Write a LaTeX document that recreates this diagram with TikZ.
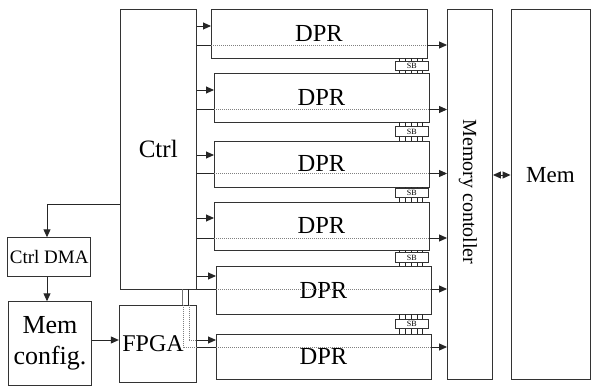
\documentclass[tikz,border=0pt]{standalone}
\usepackage{fontspec}
\setmainfont{Liberation Serif}
\usetikzlibrary{arrows.meta}

\begin{document}
\begin{tikzpicture}[
    x=1pt, y=-1pt,
    blk/.style={draw=black!80, line width=0.9pt, inner sep=0pt},
    wire/.style={line width=0.9pt, black!85},
    sig/.style={wire, -{Triangle[length=8pt, width=7pt]}},
    bus/.style={wire, {Triangle[length=8pt, width=7pt]}-{Triangle[length=8pt, width=7pt]}},
    trace/.style={gray, line width=0.5pt, dash pattern=on 1pt off 1pt},
    sbbox/.style={blk, line width=0.7pt, font=\fontsize{8}{8}\selectfont},
  ]

  \useasboundingbox (0,0) rectangle (600,388);

  % --- control column ---------------------------------------------------
  \node[blk, minimum width=76.5, minimum height=279.7,
        font=\fontsize{25}{30}\selectfont] (ctrl) at (158.25,149.15) {Ctrl};
  \node[blk, minimum width=83, minimum height=38.3,
        font=\fontsize{19}{22}\selectfont] (dma) at (49.2,256.9) {Ctrl DMA};
  \node[blk, minimum width=83.4, minimum height=83.3, align=center,
        font=\fontsize{26}{31}\selectfont] (memcfg) at (50,343.4) {Mem\\config.};
  \node[blk, minimum width=77.4, minimum height=77,
        label={[font=\fontsize{24}{28}\selectfont, xshift=-5pt]center:FPGA}] (fpga) at (158,343.5) {};

  % --- memory side ------------------------------------------------------
  \node[blk, minimum width=45, minimum height=370] (mc) at (470,194) {};
  \node[rotate=-90, font=\fontsize{20}{24}\selectfont] (mclab)
        at ([xshift=-2pt, yshift=2pt]mc.center) {Memory contoller};
  \node[blk, minimum width=79, minimum height=370,
        label={[font=\fontsize{23}{27}\selectfont, yshift=19pt]center:Mem}] (mem) at (550.5,194) {};
  \draw[bus] ([yshift=19pt]mc.east) -- ([yshift=19pt]mc.east -| mem.west);

  % --- DPR rows: left/top/right/bottom, ctrl-in y, data-out y -----------
  \foreach \i/\lx/\ty/\rx/\by/\ci/\co in {1/211/9.5/427/58/26/45,
      2/214/73/429/122/90/109.5, 3/214/141/429/187/155/173.5,
      4/214/202/429/250/218/238, 5/216/266/431/314/276/289,
      6/216/334/431/379/340/347} {
    \node[blk, minimum width={\rx-\lx}, minimum height={\by-\ty},
          font=\fontsize{24.5}{28}\selectfont] (dpr\i) at ({(\lx+\rx)/2},{(\ty+\by)/2}) {DPR};
    \coordinate (in\i) at (\lx,\ci);
    \coordinate (out\i) at (\lx,\co);
    \draw[trace] (out\i) -- (dpr\i.east |- out\i);
    \draw[sig] (dpr\i.east |- out\i) -- (mc.west |- out\i);
  }

  % ctrl feeds the first five rows
  \foreach \i in {1,...,5} {
    \draw[sig] (ctrl.east |- in\i) -- (in\i);
    \draw[wire] (ctrl.east |- out\i) -- (out\i);
  }

  % --- last row is fed through the FPGA ---------------------------------
  \coordinate (va) at ([xshift=-14.2pt]ctrl.south east);
  \coordinate (vb) at ([xshift=-8.2pt]ctrl.south east);
  \draw[wire, black!55, line width=1.3pt] (va) -- (va |- fpga.north);
  \draw[wire] (vb) -- (vb |- fpga.north);
  \draw[trace] (va |- fpga.north) |- (fpga.east |- out6);
  \draw[wire] (fpga.east |- out6) -- (out6);
  \draw[trace] (vb |- fpga.north) |- (fpga.east |- in6);
  \draw[sig] (fpga.east |- in6) -- (in6);

  % --- DMA chain --------------------------------------------------------
  \draw[sig] ([yshift=-195.7pt]ctrl.north west) -| ([xshift=-2.2pt]dma.north);
  \draw[sig] ([xshift=-2.2pt]dma.south) -- ([xshift=-2.2pt]dma.south |- memcfg.north);
  \draw[sig] ([yshift=3.4pt]memcfg.east) -- ([yshift=3.4pt]memcfg.east -| fpga.west);

  % --- SB links between neighbouring rows -------------------------------
  \foreach \i/\j/\cy in {1/2/65.8, 2/3/131.5, 3/4/193, 4/5/257.5, 5/6/324} {
    \node[sbbox, minimum width=32.5, minimum height=9.5] (sb\i) at (411.75,\cy) {SB};
    \foreach \dx in {-12,-6.25,-0.5,5.25,11} {
      \draw[wire, line width=0.7pt] ([xshift=\dx pt]sb\i.north) -- ([xshift=\dx pt]sb\i.north |- dpr\i.south);
      \draw[wire, line width=0.7pt] ([xshift=\dx pt]sb\i.south) -- ([xshift=\dx pt]sb\i.south |- dpr\j.north);
    }
  }

\end{tikzpicture}
\end{document}
